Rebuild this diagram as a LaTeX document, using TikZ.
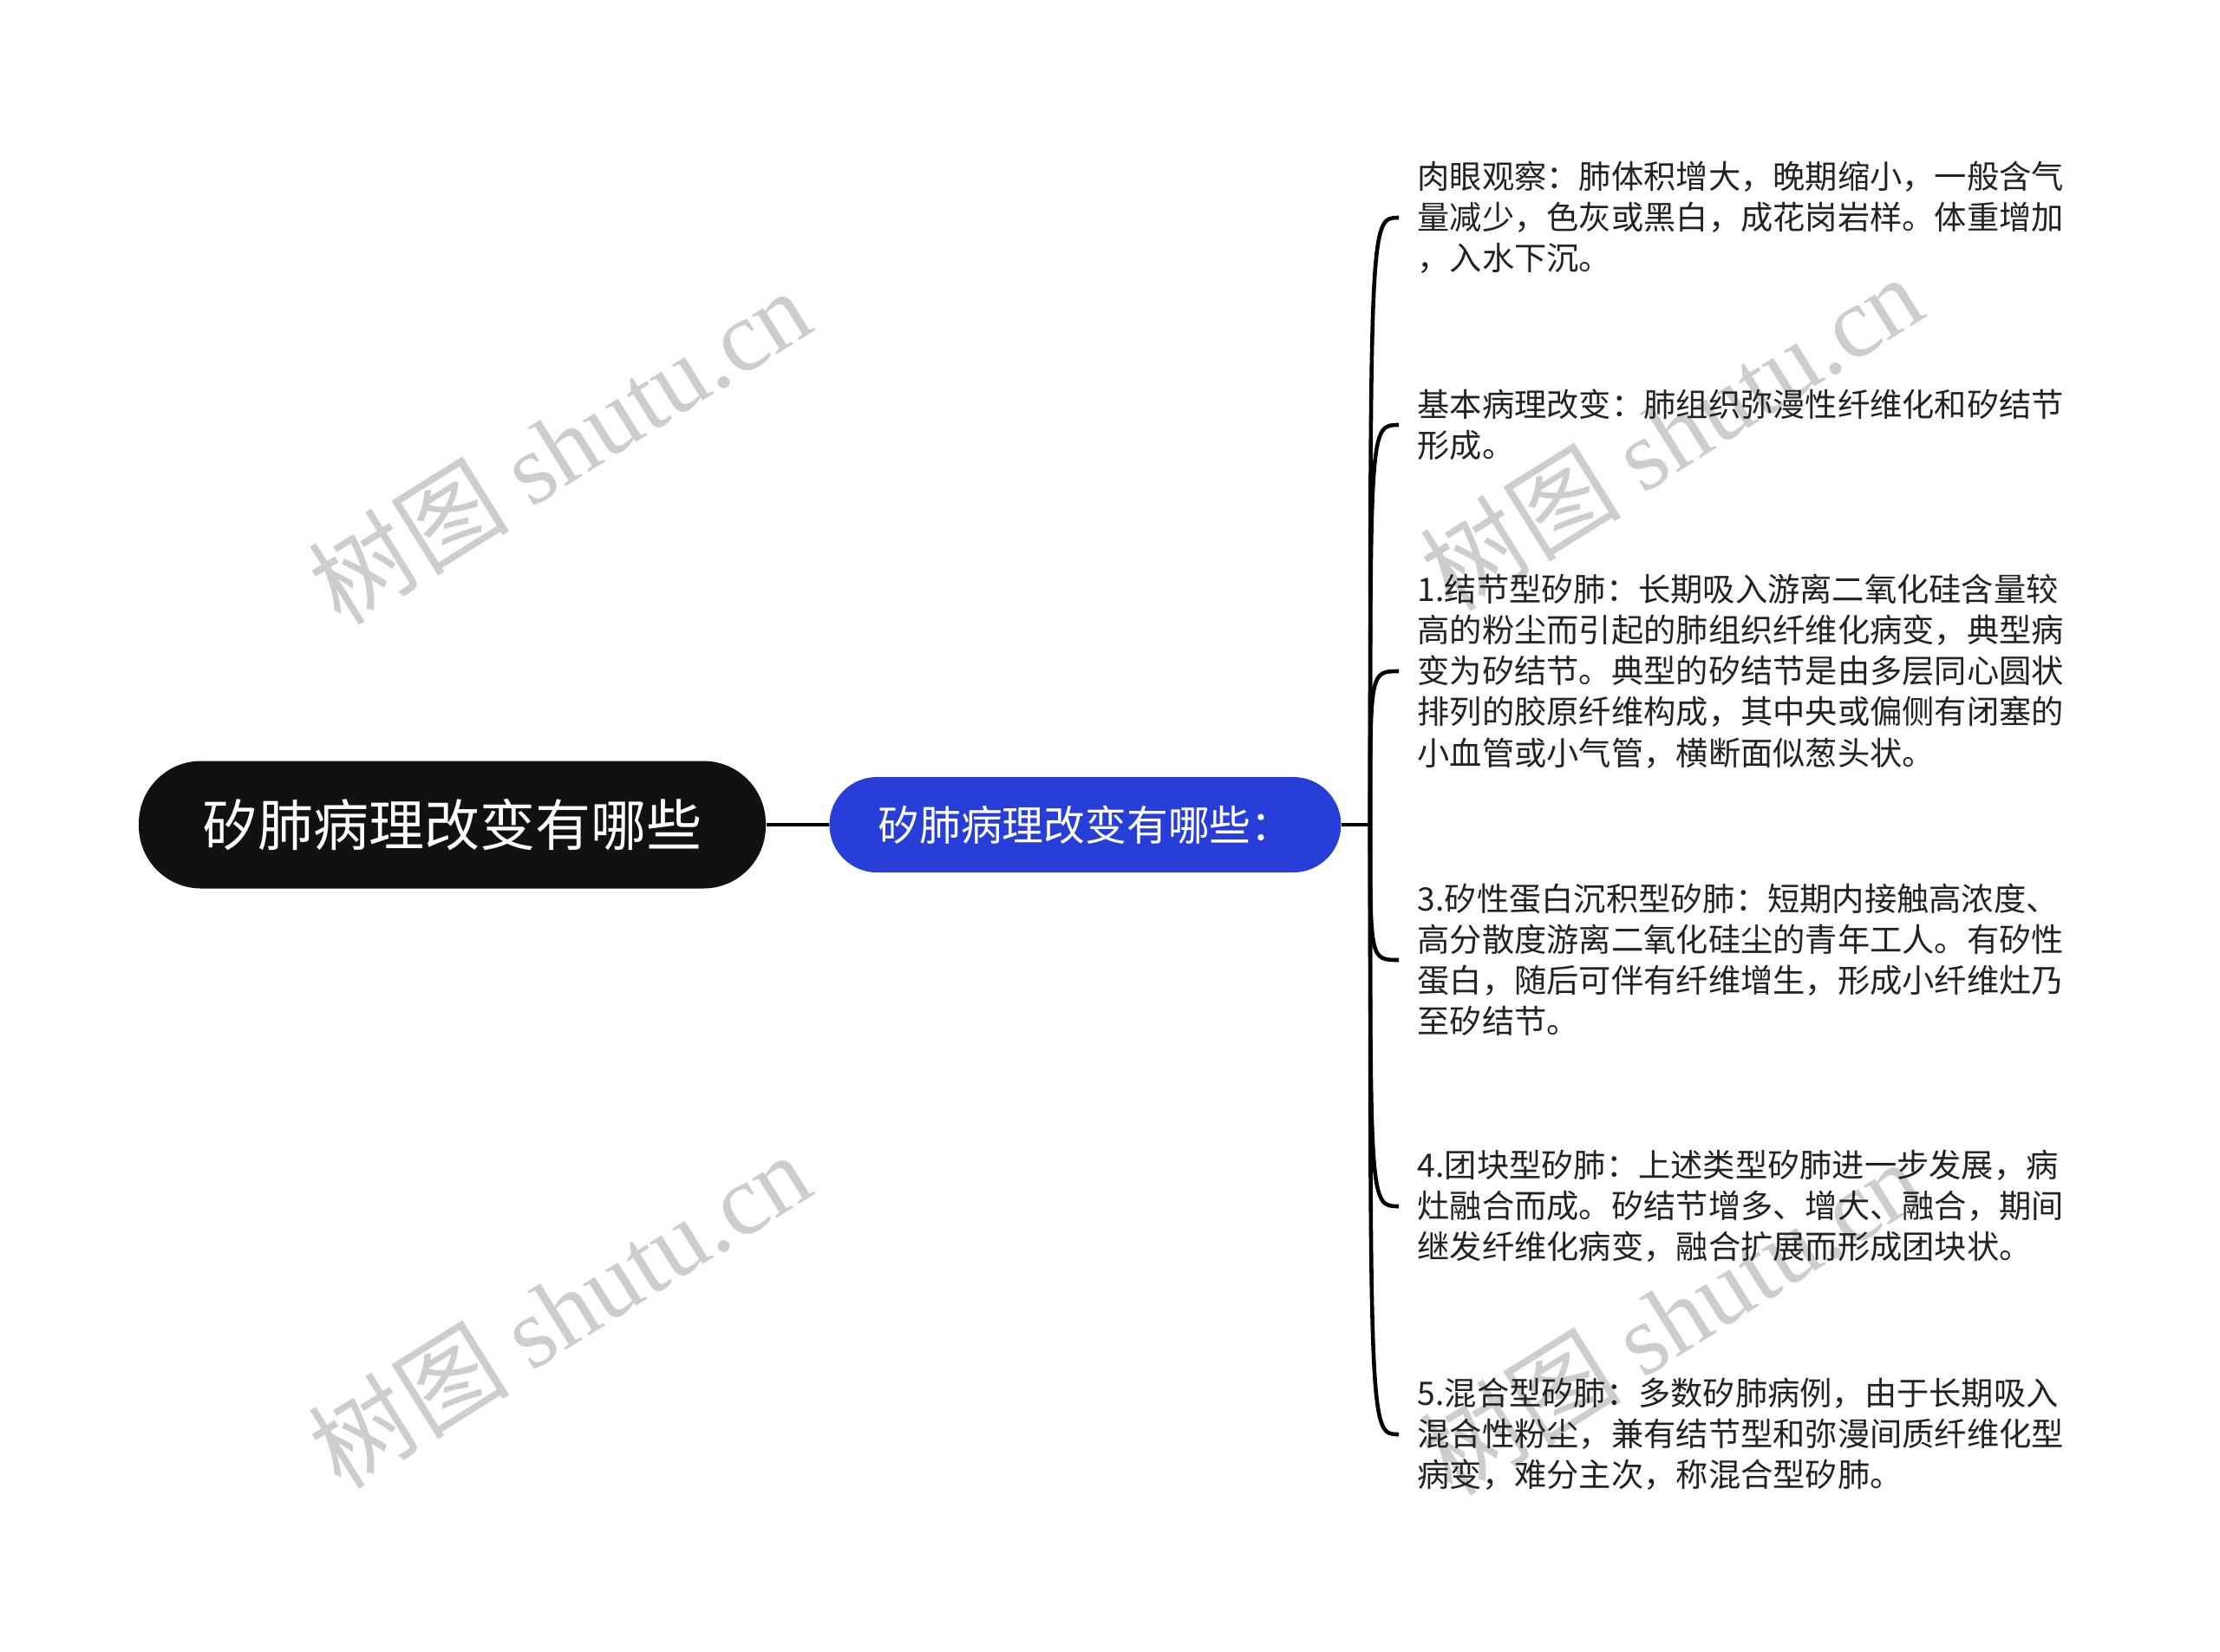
\documentclass[tikz,border=0pt]{standalone}
\usepackage{fontspec}
\setmainfont{Noto Sans CJK SC}
\newfontfamily\marklatin{Liberation Serif}
\usepackage{tikz}
\usetikzlibrary{positioning}
\definecolor{rootblack}{RGB}{17,17,17}
\definecolor{topicblue}{RGB}{40,62,216}
\definecolor{leaftext}{RGB}{34,34,34}
\definecolor{markgray}{RGB}{205,205,205}
\tikzset{
% Define standard node looks
rootbox/.style={rectangle, rounded corners=0.72cm, fill=rootblack, text=white,
  minimum width=7.23cm, minimum height=1.47cm, font=\fontsize{18.2}{22}\selectfont},
topicbox/.style={rectangle, rounded corners=0.55cm, fill=topicblue, text=white,
  minimum width=5.9cm, minimum height=1.1cm, font=\fontsize{13.6}{16}\selectfont},
leafbox/.style={anchor=west, align=left, inner xsep=0.21cm, inner ysep=0,
  text=leaftext, font=\fontsize{10.6}{13.4}\selectfont},
link/.style={draw=black, line width=1.3pt},
watermark/.style={text=markgray, rotate=32, inner sep=0, font=\fontsize{33}{38}\selectfont}
}

\begin{document}
\begin{tikzpicture}
  \useasboundingbox[fill=white] (0,0) rectangle (25.6,-19.04);

  \node[watermark] (mark-1) at (6.45, -5.14) {树图 {\marklatin shutu.cn}};
  \node[watermark] (mark-2) at (6.45, -15.10) {树图 {\marklatin shutu.cn}};
  \node[watermark] (mark-3) at (19.27, -4.98) {树图 {\marklatin shutu.cn}};
  \node[watermark] (mark-4) at (19.27, -15.18) {树图 {\marklatin shutu.cn}};

  \node[rootbox] (root) at (5.215, -9.51) {矽肺病理改变有哪些};
  \node[topicbox, right=0.72cm of root] (topic) {矽肺病理改变有哪些：};
  \coordinate (trunk) at (15.80, -9.51);

  \node[leafbox] (leaf-1) at (16.13, -2.51) {肉眼观察：肺体积增大，晚期缩小，一般含气\\量减少，色灰或黑白，成花岗岩样。体重增加\\，入水下沉。};
  \node[leafbox] (leaf-2) at (16.13, -4.90) {基本病理改变：肺组织弥漫性纤维化和矽结节\\形成。};
  \node[leafbox] (leaf-3) at (16.13, -7.74) {1.结节型矽肺：长期吸入游离二氧化硅含量较\\高的粉尘而引起的肺组织纤维化病变，典型病\\变为矽结节。典型的矽结节是由多层同心圆状\\排列的胶原纤维构成，其中央或偏侧有闭塞的\\小血管或小气管，横断面似葱头状。};
  \node[leafbox] (leaf-4) at (16.13, -11.07) {3.矽性蛋白沉积型矽肺：短期内接触高浓度、\\高分散度游离二氧化硅尘的青年工人。有矽性\\蛋白，随后可伴有纤维增生，形成小纤维灶乃\\至矽结节。};
  \node[leafbox] (leaf-5) at (16.13, -13.91) {4.团块型矽肺：上述类型矽肺进一步发展，病\\灶融合而成。矽结节增多、增大、融合，期间\\继发纤维化病变，融合扩展而形成团块状。};
  \node[leafbox] (leaf-6) at (16.13, -16.54) {5.混合型矽肺：多数矽肺病例，由于长期吸入\\混合性粉尘，兼有结节型和弥漫间质纤维化型\\病变，难分主次，称混合型矽肺。};

  \draw[link] (root) -- (topic);
  \draw[link] (topic.east) -- (trunk);
  \foreach \n in {1,...,6}
    \draw[link] (trunk) .. controls (trunk |- leaf-\n.west) and (trunk |- leaf-\n.west) .. (leaf-\n.west);
\end{tikzpicture}
\end{document}
